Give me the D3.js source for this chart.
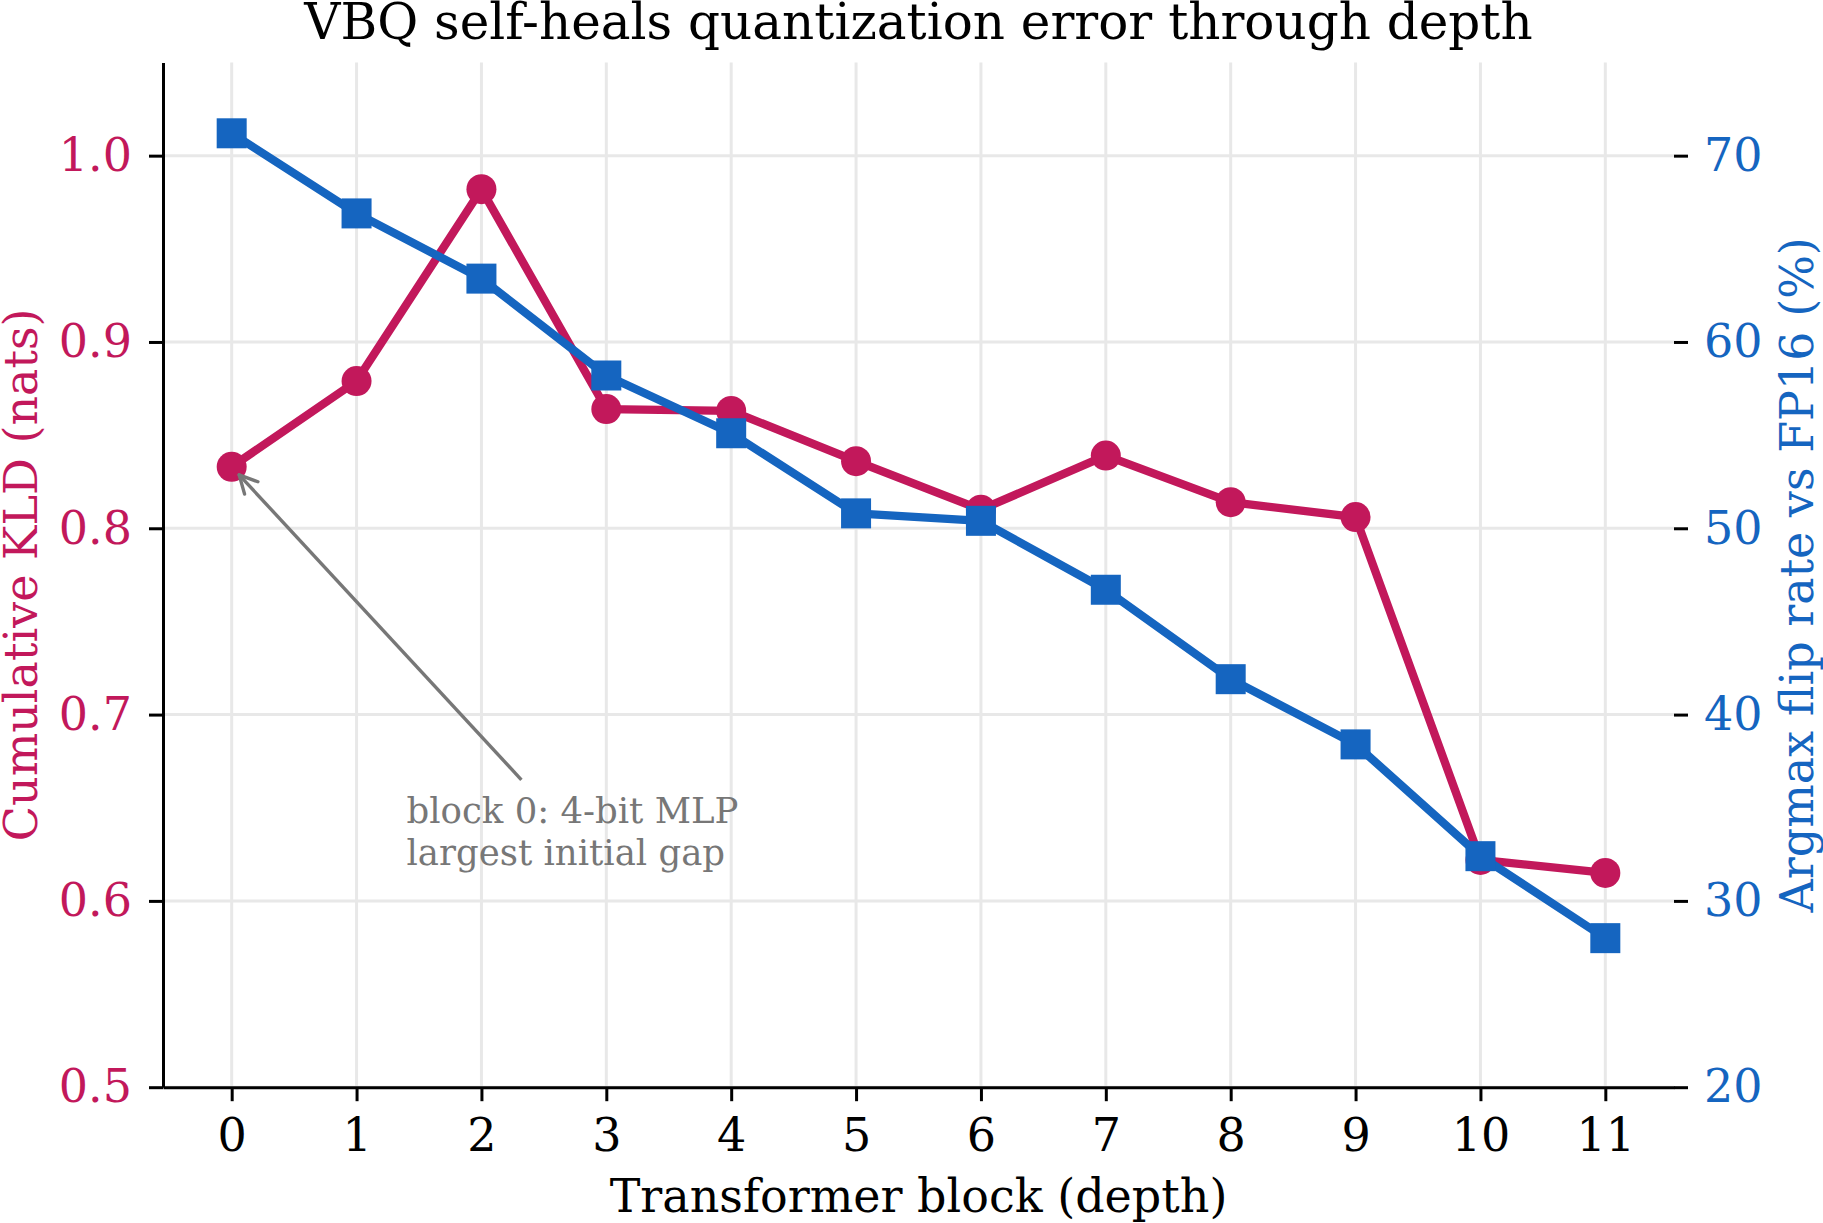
<!DOCTYPE html>
<html lang="en">
<head>
    <meta charset="UTF-8">
    <script src="https://d3js.org/d3.v7.min.js"></script>
    <title>VBQ self-heals</title>
    <style>
        body { margin: 0; background: #fff; }
        svg text { font-family: "DejaVu Serif", serif; }
    </style>
</head>
<body>
    <div id="chart"></div>
    <script>
    // data
    var blocks = [0, 1, 2, 3, 4, 5, 6, 7, 8, 9, 10, 11];
    var kld = [0.833, 0.879, 0.982, 0.864, 0.863, 0.836, 0.810, 0.839, 0.814, 0.806, 0.622, 0.615];
    var flipRate = [71.2, 66.9, 63.4, 58.2, 55.1, 50.8, 50.4, 46.7, 41.9, 38.4, 32.4, 28.0];
    var kldTicks = [0.5, 0.6, 0.7, 0.8, 0.9, 1.0];
    var flipTicks = [20, 30, 40, 50, 60, 70];
    var noteLines = ['block 0: 4-bit MLP', 'largest initial gap'];

    var width = 1823, height = 1223;
    var plotL = 163, plotR = 1674, plotT = 62.5, plotB = 1087.2;
    var pink = '#c2185b', blue = '#1565c0', grey = '#777777';

    var svg = d3.select('#chart').append('svg')
        .attr('width', width)
        .attr('height', height);

    var x = d3.scaleLinear().domain([-0.55, 11.55]).range([plotL, plotR]);
    var yL = d3.scaleLinear().domain([0.5, 1.05]).range([plotB, plotT]);
    var yR = d3.scaleLinear().domain([20, 75]).range([plotB, plotT]);

    // grid
    var grid = svg.append('g');
    grid.selectAll('.gx').data(blocks).enter().append('line')
        .attr('x1', function(d) { return x(d); }).attr('x2', function(d) { return x(d); })
        .attr('y1', plotT).attr('y2', plotB)
        .attr('stroke', '#e8e8e8').attr('stroke-width', 3);
    grid.selectAll('.gy').data(kldTicks).enter().append('line')
        .attr('x1', plotL).attr('x2', plotR)
        .attr('y1', function(d) { return yL(d); }).attr('y2', function(d) { return yL(d); })
        .attr('stroke', '#e8e8e8').attr('stroke-width', 3);

    function styleAxis(g, color) {
        g.selectAll('.tick line').attr('stroke', '#000').attr('stroke-width', 3);
        g.selectAll('.domain').attr('stroke', '#000').attr('stroke-width', 3);
        g.selectAll('.tick text')
            .attr('fill', color)
            .style('font-family', '"DejaVu Serif", serif')
            .style('font-size', '46px');
    }

    var xAxis = svg.append('g')
        .attr('transform', 'translate(0,' + plotB + ')')
        .call(d3.axisBottom(x).tickValues(blocks).tickFormat(d3.format('d'))
            .tickSize(14).tickSizeOuter(0).tickPadding(17));
    styleAxis(xAxis, '#000');

    var lAxis = svg.append('g')
        .attr('transform', 'translate(' + plotL + ',0)')
        .call(d3.axisLeft(yL).tickValues(kldTicks).tickFormat(d3.format('.1f'))
            .tickSize(14).tickSizeOuter(0).tickPadding(17));
    styleAxis(lAxis, pink);

    var rAxis = svg.append('g')
        .attr('transform', 'translate(' + plotR + ',0)')
        .call(d3.axisRight(yR).tickValues(flipTicks).tickFormat(d3.format('d'))
            .tickSize(14).tickSizeOuter(0).tickPadding(16));
    styleAxis(rAxis, blue);
    rAxis.select('.domain').remove();

    // KLD series (drawn first, flip-rate twin axis sits on top)
    var kldLine = d3.line()
        .x(function(d, i) { return x(blocks[i]); })
        .y(function(d) { return yL(d); });
    svg.append('path').datum(kld)
        .attr('d', kldLine)
        .attr('fill', 'none').attr('stroke', pink)
        .attr('stroke-width', 8.3).attr('stroke-linejoin', 'round');
    svg.selectAll('.kdot').data(kld).enter().append('circle')
        .attr('cx', function(d, i) { return x(blocks[i]); })
        .attr('cy', function(d) { return yL(d); })
        .attr('r', 15).attr('fill', pink);

    // annotation
    var tip = [x(blocks[0]), yL(kld[0])];
    var tail = [x(2.32), yL(0.665)];
    var dx = tail[0] - tip[0], dy = tail[1] - tip[1];
    var len = Math.sqrt(dx * dx + dy * dy);
    var ux = dx / len, uy = dy / len;
    var head = [tip[0] + ux * 11, tip[1] + uy * 11];
    svg.append('line')
        .attr('x1', tail[0]).attr('y1', tail[1])
        .attr('x2', head[0]).attr('y2', head[1])
        .attr('stroke', grey).attr('stroke-width', 3.4);
    var ang = 27 * Math.PI / 180, arm = 20;
    [ang, -ang].forEach(function(a) {
        var vx = ux * Math.cos(a) - uy * Math.sin(a);
        var vy = ux * Math.sin(a) + uy * Math.cos(a);
        svg.append('line')
            .attr('x1', head[0]).attr('y1', head[1])
            .attr('x2', head[0] + vx * arm).attr('y2', head[1] + vy * arm)
            .attr('stroke', grey).attr('stroke-width', 3.4)
            .attr('stroke-linecap', 'round');
    });
    var note = svg.append('text')
        .attr('x', x(1.40)).attr('y', yL(0.642))
        .attr('fill', grey).style('font-size', '35.5px');
    note.selectAll('tspan').data(noteLines).enter().append('tspan')
        .attr('x', x(1.40))
        .attr('dy', function(d, i) { return i === 0 ? 0 : 42; })
        .text(function(d) { return d; });

    // flip-rate series
    var flipLine = d3.line()
        .x(function(d, i) { return x(blocks[i]); })
        .y(function(d) { return yR(d); });
    svg.append('path').datum(flipRate)
        .attr('d', flipLine)
        .attr('fill', 'none').attr('stroke', blue)
        .attr('stroke-width', 8.3).attr('stroke-linejoin', 'round');
    var sq = 30;
    svg.selectAll('.fsq').data(flipRate).enter().append('rect')
        .attr('x', function(d, i) { return x(blocks[i]) - sq / 2; })
        .attr('y', function(d) { return yR(d) - sq / 2; })
        .attr('width', sq).attr('height', sq)
        .attr('fill', blue);

    // titles
    svg.append('text')
        .attr('x', (plotL + plotR) / 2).attr('y', 39)
        .attr('text-anchor', 'middle').style('font-size', '50px')
        .text('VBQ self-heals quantization error through depth');
    svg.append('text')
        .attr('x', (plotL + plotR) / 2).attr('y', 1212)
        .attr('text-anchor', 'middle').style('font-size', '46px')
        .text('Transformer block (depth)');
    svg.append('text')
        .attr('transform', 'translate(37,' + (plotT + plotB) / 2 + ') rotate(-90)')
        .attr('text-anchor', 'middle').attr('fill', pink).style('font-size', '46px')
        .text('Cumulative KLD (nats)');
    svg.append('text')
        .attr('transform', 'translate(1813,' + (plotT + plotB) / 2 + ') rotate(-90)')
        .attr('text-anchor', 'middle').attr('fill', blue).style('font-size', '46px')
        .text('Argmax flip rate vs FP16 (%)');
    </script>
</body>
</html>
